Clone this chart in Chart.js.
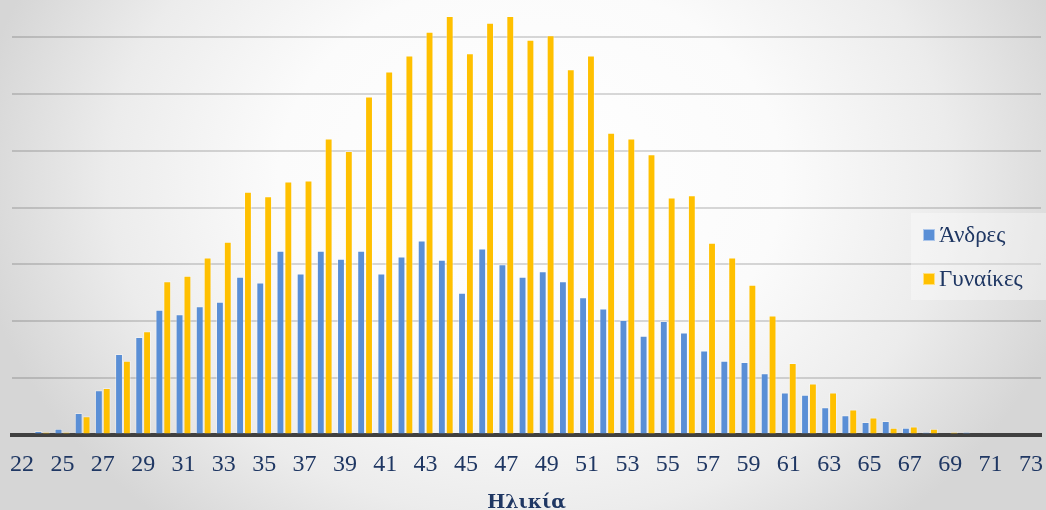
<!DOCTYPE html>
<html>
<head>
<meta charset="utf-8">
<script src="https://cdn.jsdelivr.net/npm/chart.js@4"></script>
<style>
  html, body { margin: 0; padding: 0; }
  body {
    width: 1046px; height: 510px; overflow: hidden;
    background: radial-gradient(560px 450px at 530px 180px, #ffffff 0%, #fbfbfb 45%, #ececec 75%, #d6d6d6 100%);
  }
  canvas { display: block; }
</style>
</head>
<body>
<canvas id="ageChart" width="1046" height="510"></canvas>
<script>
// Ηλικίες (κατηγορίες)
const ages = [22, 24, 25, 26, 27, 28, 29, 30, 31, 32, 33, 34, 35, 36, 37, 38, 39, 40, 41, 42, 43, 44, 45, 46, 47,
  48, 49, 50, 51, 52, 53, 54, 55, 56, 57, 58, 59, 60, 61, 62, 63, 64, 65, 66, 67, 68, 69, 70, 71, 72, 73];

const men = [0, 3, 5, 19, 39, 71, 86, 110, 106, 113, 117, 139, 134, 162, 142, 162, 155, 162, 142, 157, 171, 154, 125, 164, 150,
  139, 144, 135, 121, 111, 101, 87, 100, 90, 74, 65, 64, 54, 37, 35, 24, 17, 11, 12, 6, 2, 0, 2, 1, 0, 0];

const women = [0, 2, 2, 16, 41, 65, 91, 135, 140, 156, 170, 214, 210, 223, 224, 261, 250, 298, 320, 334, 355, 369, 336, 363, 369,
  348, 352, 322, 334, 266, 261, 247, 209, 211, 169, 156, 132, 105, 63, 45, 37, 22, 15, 6, 7, 5, 2, 0, 0, 0, 0];

const seriesNames = ['Άνδρες', 'Γυναίκες'];
const axisTitle = 'Ηλικία';

const NAVY = '#1f3763';
const SERIF = '"Liberation Serif", "DejaVu Serif", serif';

// legend drawn inside the plot, like the original
const boxLegend = {
  id: 'boxLegend',
  afterDraw(chart) {
    const ctx = chart.ctx;
    ctx.save();
    ctx.fillStyle = 'rgba(255,255,255,0.35)';
    ctx.fillRect(911, 213, 135, 87);
    const rows = [235, 279];
    chart.data.datasets.forEach((ds, i) => {
      const y = rows[i];
      ctx.fillStyle = ds.backgroundColor;
      ctx.fillRect(923, y - 6, 12, 12);
      ctx.strokeStyle = 'rgba(255,255,255,0.5)';
      ctx.lineWidth = 1;
      ctx.strokeRect(923.5, y - 5.5, 11, 11);
      ctx.fillStyle = NAVY;
      ctx.font = '23px ' + SERIF;
      ctx.textBaseline = 'middle';
      ctx.fillText(ds.label, 939, y + 1);
    });
    ctx.restore();
  }
};

new Chart(document.getElementById('ageChart'), {
  type: 'bar',
  data: {
    labels: ages,
    datasets: [
      {
        label: seriesNames[0],
        data: men,
        backgroundColor: '#5a8fd6',
        borderColor: 'rgba(255,255,255,0.35)',
        borderWidth: 1
      },
      {
        label: seriesNames[1],
        data: women,
        backgroundColor: '#ffc000',
        borderColor: 'rgba(255,255,255,0.4)',
        borderWidth: 1
      }
    ]
  },
  options: {
    responsive: false,
    animation: false,
    devicePixelRatio: 1,
    layout: { padding: { left: 12, right: 5, top: 0, bottom: 0 } },
    datasets: { bar: { categoryPercentage: 0.78, barPercentage: 1.0 } },
    plugins: {
      legend: { display: false },
      tooltip: { enabled: false }
    },
    scales: {
      x: {
        z: 1,
        offset: true,
        grid: { display: false, drawTicks: false },
        border: { display: true, color: '#404040', width: 4 },
        ticks: {
          autoSkip: false,
          maxRotation: 0,
          padding: 16,
          color: NAVY,
          font: { family: SERIF, size: 24 },
          callback: (v, i) => (i % 2 === 0 ? ages[i] : '')
        },
        title: {
          display: true,
          text: axisTitle,
          color: NAVY,
          padding: 0,
          font: { family: '"DejaVu Serif", serif', size: 19, weight: 'bold', lineHeight: 0.75 }
        },
        afterFit: s => {
          s.height = 75.5;
          // the end labels may hang over the plot edges, as in the original
          s.paddingLeft = 0;
          s.paddingRight = 0;
        }
      },
      y: {
        min: 0,
        max: 383,
        grid: { color: 'rgba(0,0,0,0.15)', lineWidth: 2, drawTicks: false },
        border: { display: false },
        ticks: { display: false, stepSize: 50, includeBounds: false },
        afterFit: s => { s.width = 0; }
      }
    }
  },
  plugins: [boxLegend]
});
</script>
</body>
</html>
